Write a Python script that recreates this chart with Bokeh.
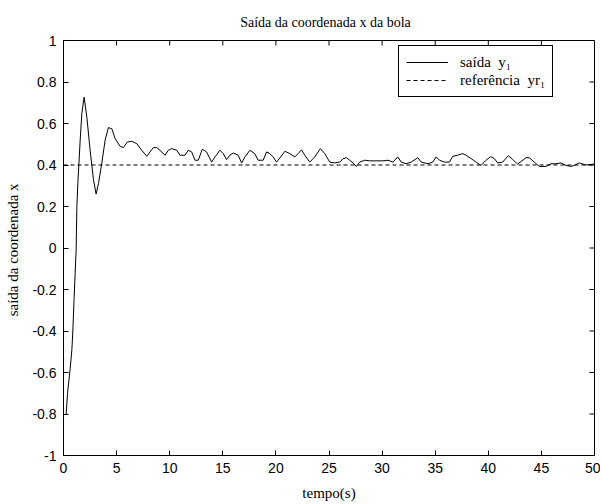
from bokeh.plotting import figure
from bokeh.models import Range1d, FixedTicker, Legend, LegendItem
from bokeh.embed import file_html
from bokeh.resources import INLINE

# ---- data ----
t_out = [0.25, 0.38, 0.63, 0.79, 0.88, 1.00, 1.19, 1.26, 1.35, 1.57, 1.73, 1.94,
         2.20, 2.51, 2.82, 3.07, 3.29, 3.61, 3.92, 4.23, 4.55, 4.86, 5.33, 5.64,
         6.02, 6.43, 6.90, 7.37, 7.84, 8.15, 8.46, 8.77, 9.25, 9.56, 9.87, 10.19,
         10.66, 10.97, 11.44, 11.75, 12.07, 12.38, 12.69, 13.07, 13.47, 13.95, 14.26,
         14.73, 15.04, 15.35, 15.66, 15.98, 16.45, 16.77, 17.10, 17.55, 18.01, 18.33,
         18.80, 19.12, 19.43, 19.74, 20.06, 20.45, 20.84, 21.31, 21.78, 22.09, 22.41,
         22.72, 23.19, 23.66, 24.19, 24.60, 25.07, 25.54, 26.01, 26.32, 26.64, 26.95,
         27.26, 27.58, 27.89, 28.36, 28.83, 30.08, 30.55, 31.02, 31.48, 31.80, 32.27,
         32.74, 33.36, 33.68, 34.30, 34.77, 35.09, 35.40, 35.87, 36.34, 36.65, 37.12,
         37.59, 37.91, 38.38, 38.85, 39.32, 39.79, 40.20, 40.57, 40.88, 41.35, 41.89,
         42.29, 42.76, 43.55, 43.86, 44.33, 44.80, 45.43, 45.90, 46.37, 46.84, 47.31,
         47.78, 48.09, 48.56, 49.20, 50.00]
y_out = [-0.80, -0.70, -0.58, -0.49, -0.40, -0.24, -0.01, 0.20, 0.31, 0.52, 0.65, 0.727,
         0.63, 0.47, 0.33, 0.26, 0.31, 0.41, 0.52, 0.58, 0.575, 0.527, 0.49, 0.484,
         0.511, 0.514, 0.503, 0.471, 0.442, 0.463, 0.484, 0.484, 0.463, 0.447, 0.471, 0.479,
         0.471, 0.447, 0.447, 0.471, 0.463, 0.423, 0.423, 0.476, 0.463, 0.414, 0.439,
         0.471, 0.455, 0.426, 0.447, 0.458, 0.447, 0.410, 0.440, 0.471, 0.455, 0.423,
         0.423, 0.463, 0.455, 0.439, 0.414, 0.439, 0.466, 0.455, 0.439, 0.455, 0.473,
         0.447, 0.414, 0.439, 0.479, 0.455, 0.414, 0.410, 0.414, 0.430, 0.435, 0.423,
         0.410, 0.393, 0.414, 0.423, 0.420, 0.420, 0.423, 0.414, 0.439, 0.414, 0.406,
         0.414, 0.435, 0.414, 0.406, 0.414, 0.439, 0.423, 0.414, 0.414, 0.442, 0.447,
         0.455, 0.447, 0.431, 0.414, 0.398, 0.423, 0.440, 0.431, 0.410, 0.414, 0.445,
         0.427, 0.404, 0.435, 0.435, 0.414, 0.393, 0.393, 0.406, 0.406, 0.410, 0.398,
         0.393, 0.398, 0.410, 0.400, 0.405]
t_ref = [0, 50]
y_ref = [0.4, 0.4]

x_ticks = [0, 5, 10, 15, 20, 25, 30, 35, 40, 45, 50]
x_tick_labels = ["0", "5", "10", "15", "20", "25", "30", "35", "40", "45", "50"]
y_ticks = [-1, -0.8, -0.6, -0.4, -0.2, 0, 0.2, 0.4, 0.6, 0.8, 1]
y_tick_labels = ["-1", "-0.8", "-0.6", "-0.4", "-0.2", "0", "0.2", "0.4", "0.6", "0.8", "1"]

X_MIN, X_MAX = 0, 50
Y_MIN, Y_MAX = -1, 1

title_text = "Saída da coordenada  x  da bola"
x_label = "tempo(s)"
y_label = "saída da coordenada  x"
legend_labels = ["saída  y₁", "referência  yr₁"]

# ---- figure ----
W, H = 600, 504
ML, MR, MT, MB = 63, 6, 40, 49
p = figure(width=W, height=H, output_backend="svg", toolbar_location=None,
           x_range=Range1d(X_MIN, X_MAX), y_range=Range1d(Y_MIN, Y_MAX),
           min_border_left=ML, min_border_right=MR, min_border_top=MT, min_border_bottom=MB,
           background_fill_color="white", border_fill_color="white")

p.title.text = title_text
p.title.align = "center"
p.title.text_font = "Liberation Serif"
p.title.text_font_size = "14px"
p.title.text_font_style = "normal"
p.title.text_color = "black"
p.title.standoff = 22

p.grid.visible = False
p.outline_line_color = "black"
p.outline_line_alpha = 1.0
p.outline_line_width = 1

p.xaxis.ticker = FixedTicker(ticks=x_ticks)
p.yaxis.ticker = FixedTicker(ticks=y_ticks)
p.xaxis.major_label_overrides = dict(zip(x_ticks, x_tick_labels))
p.yaxis.major_label_overrides = dict(zip(y_ticks, y_tick_labels))
for ax in (p.xaxis, p.yaxis):
    ax.major_tick_in = 5
    ax.major_tick_out = 0
    ax.minor_tick_line_color = None
    ax.axis_line_color = "black"
    ax.major_tick_line_color = "black"
    ax.major_label_text_font = "Liberation Sans"
    ax.major_label_text_font_size = "14px"
    ax.major_label_text_color = "black"
    ax.axis_label_text_font = "Liberation Serif"
    ax.axis_label_text_font_size = "15px"
    ax.axis_label_text_font_style = "normal"
    ax.axis_label_text_color = "black"
p.xaxis.axis_label = x_label
p.yaxis.axis_label = y_label
p.xaxis.major_label_standoff = 7
p.yaxis.major_label_standoff = 7
p.xaxis.axis_label_standoff = 9
p.yaxis.axis_label_standoff = 8

# mirror ticks on top and right (box on)
frame_w = W - ML - MR
frame_h = H - MT - MB
tick_len_y = 5 * (Y_MAX - Y_MIN) / frame_h
tick_len_x = 5 * (X_MAX - X_MIN) / frame_w
p.segment(x0=x_ticks, y0=[Y_MAX] * len(x_ticks), x1=x_ticks,
          y1=[Y_MAX - tick_len_y] * len(x_ticks), line_color="black", line_width=1)
p.segment(x0=[X_MAX] * len(y_ticks), y0=y_ticks, x1=[X_MAX - tick_len_x] * len(y_ticks),
          y1=y_ticks, line_color="black", line_width=1)

r1 = p.line(t_out, y_out, line_color="black", line_width=1)
r2 = p.line(t_ref, y_ref, line_color="black", line_width=1, line_dash="4 3")

legend = Legend(items=[LegendItem(label=legend_labels[0], renderers=[r1]),
                       LegendItem(label=legend_labels[1], renderers=[r2])],
                location=(335, 358), orientation="vertical",
                border_line_color="black", border_line_width=1, border_line_alpha=1,
                background_fill_color="white", background_fill_alpha=1,
                label_text_font="Liberation Serif", label_text_font_size="15px",
                label_text_color="black",
                glyph_width=42, glyph_height=18, label_height=18, label_standoff=12,
                padding=7, spacing=0, margin=0)
p.add_layout(legend)

open("out.html", "w").write(file_html(p, INLINE))
